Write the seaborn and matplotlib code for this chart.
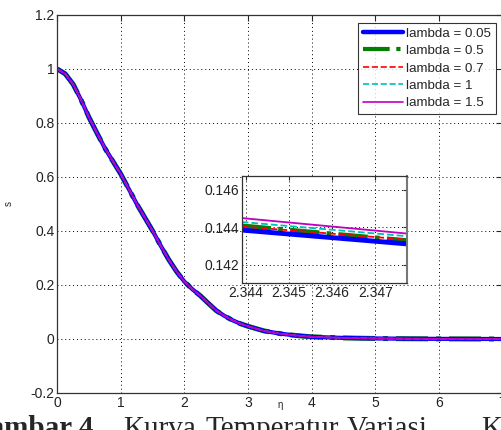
import numpy as np
import pandas as pd
import seaborn as sns
import matplotlib
matplotlib.use("Agg")
import matplotlib.pyplot as plt
from matplotlib.lines import Line2D

# ---- data ----
eta = [0.0, 0.125, 0.25, 0.375, 0.5, 0.625, 0.75, 0.875, 1.0, 1.125, 1.25, 1.375,
       1.5, 1.625, 1.75, 1.875, 2.0, 2.125, 2.25, 2.375, 2.5, 2.625, 2.75, 2.875,
       3.0, 3.25, 3.5, 3.75, 4.0, 4.5, 5.0, 5.5, 6.0, 6.5, 7.0]
s_main = [1.0, 0.982, 0.943, 0.885, 0.82, 0.762, 0.706, 0.658, 0.61, 0.555, 0.50,
          0.45, 0.40, 0.346, 0.295, 0.25, 0.212, 0.184, 0.16, 0.132, 0.105, 0.086,
          0.07, 0.057, 0.047, 0.03, 0.02, 0.013, 0.008, 0.004, 0.002, 0.001,
          0.0005, 0.0002, 0.0]
lambdas = ["0.05", "0.5", "0.7", "1", "1.5"]

inset_eta = [2.3439, 2.3478]
inset_s = {
    "0.05": [0.14386, 0.14311],
    "0.5": [0.14409, 0.14329],
    "0.7": [0.14405, 0.14334],
    "1": [0.14429, 0.14352],
    "1.5": [0.14450, 0.14366],
}
main_xticks = [0, 1, 2, 3, 4, 5, 6, 7]
main_yticks = [-0.2, 0, 0.2, 0.4, 0.6, 0.8, 1, 1.2]
inset_xticks = [2.344, 2.345, 2.346, 2.347]
inset_yticks = [0.142, 0.144, 0.146]
caption_bold = "Gambar 4."
caption_words = ["Kurva", "Temperatur", "Variasi", "Konstanta"]

colors = {"0.05": "#0000ff", "0.5": "#007f00", "0.7": "#ff0000", "1": "#00bfbf", "1.5": "#bf00bf"}
styles = {"0.05": "-", "0.5": "-.", "0.7": "--", "1": "--", "1.5": "-"}
widths = {"0.05": 3.2, "0.5": 3.0, "0.7": 1.2, "1": 1.2, "1.5": 1.2}
main_widths = {"0.05": 3.0, "0.5": 3.6, "0.7": 1.2, "1": 1.2, "1.5": 1.3}

sns.set_style("white")
plt.rcParams['font.family'] = ['Liberation Sans', 'DejaVu Sans']

fig = plt.figure(figsize=(5.02, 4.30), dpi=100)
ax = fig.add_axes([57.3 / 502, 1 - 393 / 430, (502.5 - 57.3) / 502, (393 - 15) / 430])

order = ["0.5", "0.05", "0.7", "1", "1.5"]
for lam in order:
    df = pd.DataFrame({"eta": eta, "s": s_main})
    sns.lineplot(data=df, x="eta", y="s", ax=ax, color=colors[lam],
                 linestyle=styles[lam], lw=main_widths[lam], legend=False)

ax.set_xlim(0, 7)
ax.set_ylim(-0.2, 1.2)
ax.set_xticks(main_xticks)
ax.set_xticklabels([str(t) for t in main_xticks])
ax.set_yticks(main_yticks)
ax.set_yticklabels(["-0.2", "0", "0.2", "0.4", "0.6", "0.8", "1", "1.2"])
ax.grid(True, color="black", linestyle=(0, (1, 3)), linewidth=0.7)
ax.tick_params(direction="in", length=4, width=0.8, top=True, right=True,
               labelsize=10, labelcolor="#222222", pad=2)
for sp in ax.spines.values():
    sp.set_color("#333333")
    sp.set_linewidth(0.9)
ax.set_xlabel("η", fontsize=7, labelpad=-7)
ax.set_ylabel("s", fontsize=7, labelpad=12)

handles = [Line2D([0], [0], color=colors[l], linestyle=styles[l], lw=widths[l]) for l in lambdas]
leg = ax.legend(handles, ["lambda = " + l for l in lambdas], loc="upper right",
                bbox_to_anchor=(495.7 / 502, 1 - 22.7 / 430), bbox_transform=fig.transFigure,
                fontsize=9.6, frameon=True, fancybox=False, edgecolor="black",
                handlelength=3.0, handletextpad=0.25, borderpad=0.35, labelspacing=0.38,
                borderaxespad=0)
leg.get_frame().set_linewidth(0.8)

# ---- inset ----
axi = fig.add_axes([241.7 / 502, 1 - 283.3 / 430, (406.7 - 241.7) / 502, (283.3 - 175.7) / 430])
axi.set_facecolor("white")
for lam in order:
    dfi = pd.DataFrame({"eta": inset_eta, "s": inset_s[lam]})
    sns.lineplot(data=dfi, x="eta", y="s", ax=axi, color=colors[lam],
                 linestyle=styles[lam], lw=widths[lam] * 1.1, legend=False)
axi.set_xlim(2.3439, 2.34773)
axi.set_ylim(0.14102, 0.14676)
axi.set_xticks(inset_xticks)
axi.set_xticklabels([f"{t:.3f}" for t in inset_xticks])
axi.set_yticks(inset_yticks)
axi.set_yticklabels([f"{t:.3f}" for t in inset_yticks])
axi.grid(True, color="black", linestyle=(0, (1, 3)), linewidth=0.7)
axi.tick_params(direction="in", length=3, width=0.8, top=True, right=True,
                labelsize=10, labelcolor="#222222", pad=2)
axi.set_xlabel("")
axi.set_ylabel("")
for sp in axi.spines.values():
    sp.set_color("#333333")
    sp.set_linewidth(0.9)
axi.spines["right"].set_color("#777777")
axi.spines["right"].set_linewidth(1.5)

# ---- cropped caption (justified in source document) ----
base_y = 1 - 436 / 430
fig.text(101 / 502, base_y, caption_bold, family="Liberation Serif",
         fontweight="bold", fontsize=21, ha="right", va="baseline")
for word, xp in zip(caption_words, [123, 205, 347, 481]):
    fig.text(xp / 502, base_y, word, family="Liberation Serif",
             fontsize=21, ha="left", va="baseline")

fig.savefig("out.png", dpi=100)
